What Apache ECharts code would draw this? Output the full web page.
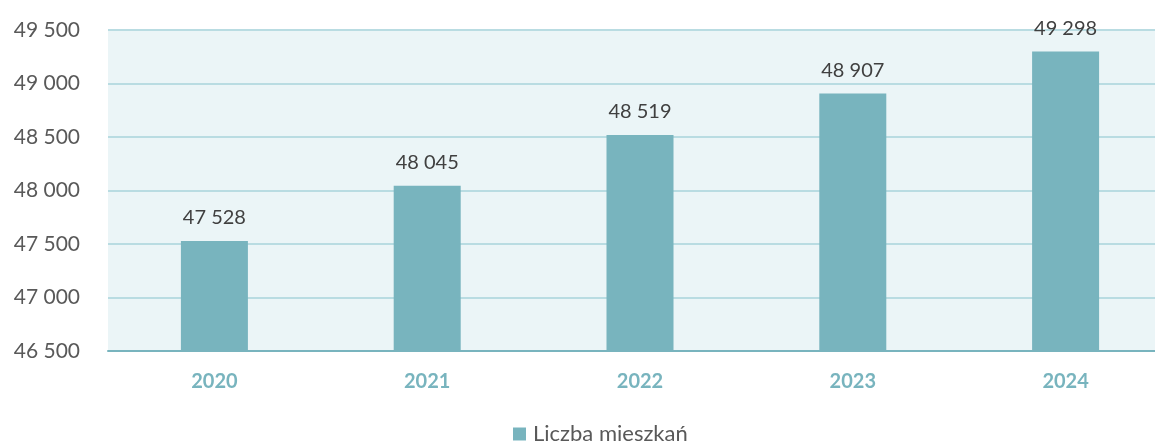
<!DOCTYPE html>
<html>
<head>
<meta charset="utf-8">
<script src="https://cdn.jsdelivr.net/npm/echarts@6/dist/echarts.min.js"></script>
<style>
html, body { margin: 0; padding: 0; background: #fff; }
#chart { width: 1155px; height: 444px; }
</style>
</head>
<body>
<div id="chart"></div>
<script>
// liczba mieszkań 2020-2024
var years = ['2020', '2021', '2022', '2023', '2024'];
var flats = [47528, 48045, 48519, 48907, 49298];
var seriesName = 'Liczba mieszkań';

var font = 'Lato, "Open Sans", sans-serif';

function fmt(v) {
	return String(v).replace(/\B(?=(\d{3})+(?!\d))/g, ' ');
}

var option = {
	animation: false,
	grid: {
		left: 108,
		top: 30,
		width: 1064,
		height: 321,
		outerBoundsMode: 'none',
		containLabel: false,
		show: true,
		backgroundColor: '#EBF5F7',
		borderWidth: 0
	},
	legend: {
		top: 423,
		left: 513,
		padding: 0,
		itemWidth: 13,
		itemHeight: 13,
		itemGap: 6,
		icon: 'rect',
		textStyle: { color: '#595959', fontSize: 22, fontFamily: font, padding: [0, 0, 0, 2] },
		data: [seriesName]
	},
	xAxis: {
		type: 'category',
		data: years,
		axisTick: { show: false },
		axisLine: { lineStyle: { color: '#78B4BE', width: 2 } },
		axisLabel: {
			color: '#78B4BE',
			fontSize: 20,
			fontWeight: 'bold',
			fontFamily: font,
			margin: 21
		}
	},
	yAxis: {
		type: 'value',
		min: 46500,
		max: 49500,
		interval: 500,
		axisLine: { show: false },
		axisTick: { show: false },
		splitLine: { lineStyle: { color: '#B9DCE2', width: 2 } },
		axisLabel: {
			color: '#595959',
			fontSize: 21,
			fontFamily: font,
			margin: 28,
			formatter: fmt
		}
	},
	series: [
		{
			name: seriesName,
			type: 'bar',
			data: flats,
			barWidth: 67,
			itemStyle: { color: '#78B4BE' },
			label: {
				show: true,
				position: 'top',
				distance: 13,
				color: '#404040',
				fontSize: 20,
				fontFamily: font,
				formatter: function (p) { return fmt(p.value); }
			}
		}
	]
};

var chart = echarts.init(document.getElementById('chart'));
chart.setOption(option);
</script>
</body>
</html>
